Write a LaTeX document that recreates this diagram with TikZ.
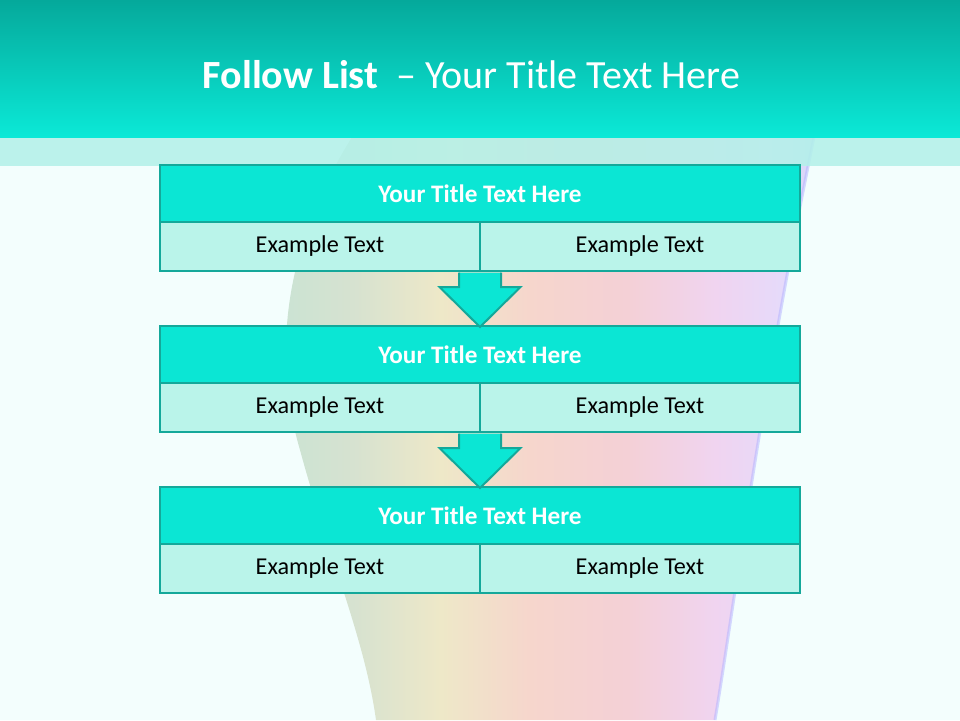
\documentclass[tikz,border=0pt]{standalone}
\usepackage{fontspec}
\setmainfont{Carlito}
\usepackage{tikz}
\usetikzlibrary{positioning, calc}
\definecolor{headtop}{HTML}{05A99B}
\definecolor{headbot}{HTML}{0BE9D7}
\definecolor{stripcol}{HTML}{B2F1E9}
\definecolor{bgcol}{HTML}{F3FEFD}
\definecolor{titlefill}{HTML}{0BE6D4}
\definecolor{edgecol}{HTML}{14A89A}
\definecolor{cellfill}{HTML}{BAF4EA}
\definecolor{ribA}{HTML}{C8E4D4}
\definecolor{ribB}{HTML}{D6E2D0}
\definecolor{ribC}{HTML}{EEE8C8}
\definecolor{ribD}{HTML}{F6D6CC}
\definecolor{ribE}{HTML}{F4D0D6}
\definecolor{ribF}{HTML}{F0D4F0}
\definecolor{ribG}{HTML}{E6DAFA}
\definecolor{ribH}{HTML}{D6D6F8}
\pgfdeclarehorizontalshading{ribbon}{100bp}{
    color(0bp)=(ribA); color(25bp)=(ribA); color(33bp)=(ribB);
    color(41bp)=(ribC); color(49bp)=(ribD); color(58bp)=(ribE);
    color(66bp)=(ribF); color(72bp)=(ribG); color(75bp)=(ribH);
    color(100bp)=(ribH)}

\begin{document}
\begin{tikzpicture}[x=1pt, y=-1pt,
    titlerow/.style={rectangle, draw=edgecol, fill=titlefill, line width=2.5pt, outer sep=0pt, minimum width=640pt, minimum height=57pt, inner sep=0pt, text=white, font=\fontsize{25.2}{28}\selectfont\bfseries},
    cell/.style={rectangle, draw=edgecol, fill=cellfill, line width=2.5pt, outer sep=0pt, minimum width=320pt, minimum height=49pt, inner sep=0pt, font=\fontsize{24.2}{28}\selectfont},
    downarrow/.style={draw=edgecol, fill=titlefill, line width=2pt, line join=miter},
]
    % Slide background
    \useasboundingbox (0,0) rectangle (960,720);
    \fill[bgcol] (0,0) rectangle (960,720);
    \shade[shading=ribbon]
        (352,137) .. controls (300,220) and (265,330) .. (300,450)
        .. controls (330,560) and (365,640) .. (376,720) -- (715,720)
        .. controls (735,600) and (760,400) .. (814,137) -- cycle;
    \draw[blue!30, line width=3pt, opacity=0.5] (715,720) .. controls (735,600) and (760,400) .. (814,137);
    \fill[stripcol, fill opacity=0.85] (0,137) rectangle (960,166);
    \shade[top color=headtop, bottom color=headbot] (0,0) rectangle (960,137);
    % Slide title
    \node[text=white, font=\fontsize{40}{46}\selectfont] (slidetitle) at (471.5,75)
        {\textbf{Follow List}\hspace{0.45em}– Your Title Text Here};
    % Blocks
    \foreach \i/\y in {1/165,2/326,3/487} {
        \node[titlerow, anchor=north] (t\i) at (480,\y) {Your Title Text Here};
        \node[cell, anchor=north east] (l\i) at (t\i.south) {Example Text};
        \node[cell, anchor=north west] (r\i) at (t\i.south) {Example Text};
    }
    % Arrows between blocks
    \foreach \i/\j in {1/2,2/3} {
        \draw[downarrow] ($(l\i.south east)+(-21,1.5)$) -- ++(0,14.5) -- ++(-19.5,0)
            -- ($(t\j.north)+(0,1)$) -- ($(l\i.south east)+(40.5,16)$) -- ++(-19.5,0)
            -- ($(l\i.south east)+(21,1.5)$);
    }
\end{tikzpicture}
\end{document}
